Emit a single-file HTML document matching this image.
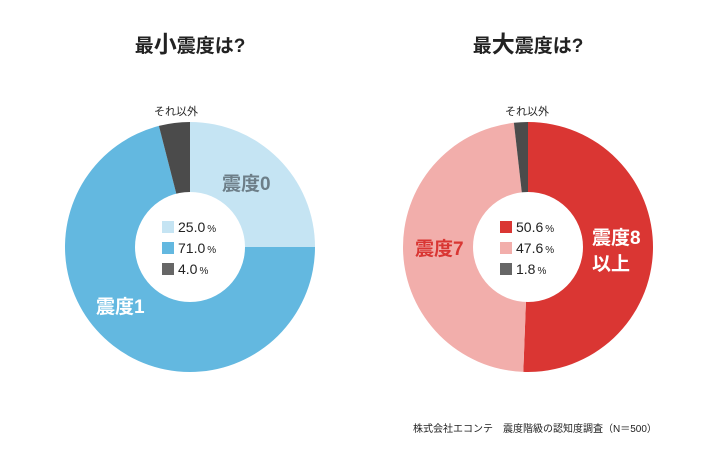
<!DOCTYPE html>
<html><head><meta charset="utf-8"><style>
body{margin:0;background:#fff;width:705px;height:460px;overflow:hidden;font-family:"Liberation Sans","Noto Sans CJK JP",sans-serif;}
</style></head><body>
<svg width="705" height="460" id="svg" font-family="Liberation Sans, Noto Sans CJK JP, sans-serif">
<text x="190" y="52" text-anchor="middle" font-size="19" font-weight="bold" fill="#222">最<tspan font-size="23">小</tspan>震度は?</text>
<text x="528" y="52" text-anchor="middle" font-size="19" font-weight="bold" fill="#222">最<tspan font-size="23">大</tspan>震度は?</text>
<text x="176" y="115" text-anchor="middle" font-size="11" fill="#222">それ以外</text>
<text x="527" y="115" text-anchor="middle" font-size="11" fill="#222">それ以外</text>
<g id="left"></g><g id="right"></g>
<text x="222" y="190" font-size="19" font-weight="bold" fill="#6d7e88">震度0</text>
<text x="96" y="313" font-size="19" font-weight="bold" fill="#fff">震度1</text>
<text x="415" y="255" font-size="19" font-weight="bold" fill="#d93633">震度7</text>
<text x="592" y="244" font-size="19" font-weight="bold" fill="#fff">震度8</text>
<text x="592" y="270" font-size="19" font-weight="bold" fill="#fff">以上</text>
<text x="413" y="432" font-size="10" fill="#222">株式会社エコンテ　震度階級の認知度調査（N＝500）</text>
</svg>
<script>
const leftValues=[25.0,71.0,4.0];
const leftLabels=["25.0","71.0","4.0"];
const rightValues=[50.6,47.6,1.8];
const rightLabels=["50.6","47.6","1.8"];
const leftColors=["#c5e4f3","#63b8e0","#4b4b4b"];
const rightColors=["#da3633","#f2aeab","#4b4b4b"];
const NS="http://www.w3.org/2000/svg";
function donut(gid,cx,cy,R,r,vals,labels,cols,side){
  const g=document.getElementById(gid);
  const tot=vals.reduce((a,b)=>a+b,0);
  let a0=0;
  vals.forEach((v,i)=>{
    const a1=a0+v/tot*2*Math.PI;
    const p=(a,rad)=>[cx+rad*Math.sin(a),cy-rad*Math.cos(a)];
    const [x0,y0]=p(a0,R),[x1,y1]=p(a1,R);
    const lg=(a1-a0)>Math.PI?1:0;
    const path=document.createElementNS(NS,"path");
    path.setAttribute("d",`M${cx},${cy}L${x0},${y0}A${R},${R} 0 ${lg} 1 ${x1},${y1}Z`);
    path.setAttribute("fill",cols[i]);
    
    
    g.appendChild(path);
    a0=a1;
  });
  const c=document.createElementNS(NS,"circle");
  c.setAttribute("cx",cx);c.setAttribute("cy",cy);c.setAttribute("r",r);c.setAttribute("fill","#fff");
  
  
  g.appendChild(c);
  labels.forEach((t,i)=>{
    const y=cy-26+i*21;
    const sq=document.createElementNS(NS,"rect");
    sq.setAttribute("x",cx-28);sq.setAttribute("y",y);sq.setAttribute("width",12);sq.setAttribute("height",12);
    sq.setAttribute("fill",cols[i]==="#4b4b4b"?"#666":cols[i]);
    
    
    g.appendChild(sq);
    const tx=document.createElementNS(NS,"text");
    tx.setAttribute("x",cx-12);tx.setAttribute("y",y+11);tx.setAttribute("font-size","14");tx.setAttribute("fill","#222");
    tx.innerHTML=t+'<tspan font-size="10" dx="2">%</tspan>';
    
    
    g.appendChild(tx);
  });
}
donut("left",190,247,125,55,leftValues,leftLabels,leftColors,"left");
donut("right",528,247,125,55,rightValues,rightLabels,rightColors,"right");
</script>
</body></html>
